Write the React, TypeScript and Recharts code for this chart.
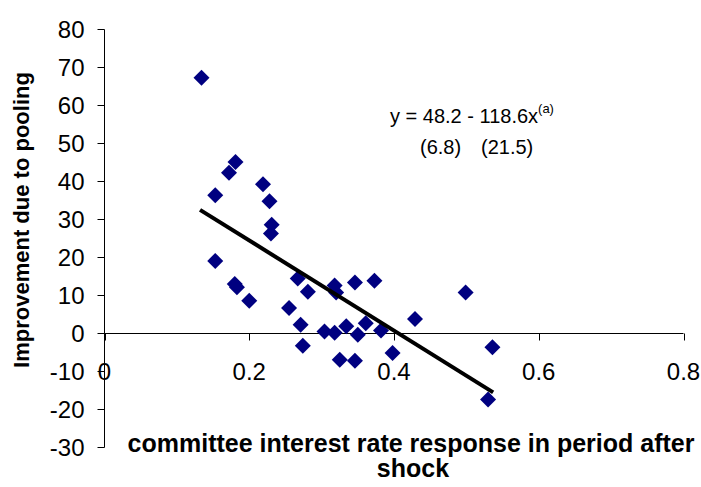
import { ScatterChart, Scatter, XAxis, YAxis, ReferenceLine } from 'recharts'

// committee response (x) vs. improvement from pooling (y), one entry per experiment
const responseX = [
  0.134, 0.181, 0.172, 0.153, 0.219, 0.228, 0.231, 0.230, 0.153, 0.180, 0.183, 0.200,
  0.267, 0.281, 0.255, 0.271, 0.274, 0.304, 0.318, 0.320, 0.318, 0.325, 0.334, 0.346,
  0.350, 0.346, 0.361, 0.373, 0.382, 0.398, 0.429, 0.499, 0.536, 0.530,
]
const improvementY = [
  67.3, 45.1, 42.3, 36.4, 39.3, 34.8, 28.6, 26.3, 19.1, 13.0, 12.2, 8.6,
  14.5, 11.0, 6.7, 2.3, -3.2, 0.5, 12.6, 10.8, 0.2, -6.9, 1.9, 13.4,
  -0.3, -7.2, 2.7, 13.9, 0.8, -5.1, 3.8, 10.8, -3.6, -17.4,
]

// fitted line y = a + b x, drawn over the observed x range
const fitIntercept = 48.2
const fitSlope = -118.6
const fitRange = [0.132, 0.537]

const xTicks = [0, 0.2, 0.4, 0.6, 0.8]
const yTicks = [-30, -20, -10, 0, 10, 20, 30, 40, 50, 60, 70, 80]

const points = responseX.map((x, i) => ({ x, y: improvementY[i] }))
const fitLine = fitRange.map((x) => ({ x, y: fitIntercept + fitSlope * x }))

const FONT = '"Liberation Sans", Arial, Helvetica, sans-serif'
const W = 693
const H = 479
// half-pixel offsets keep the 1px axis lines crisp
const M = { top: 21.5, right: 17.5, bottom: 38.5, left: 0.5 }
const X_AXIS_H = 1
const Y_AXIS_W = 96
const Y_MIN = -30
const Y_MAX = 80
// pixel row of y = 0, where the x axis crosses
const PLOT_H = H - M.top - M.bottom - X_AXIS_H
const ZERO_Y = M.top + (PLOT_H * Y_MAX) / (Y_MAX - Y_MIN)

function Diamond(props: any) {
  const { cx, cy } = props
  if (cx == null || cy == null) return <g />
  const r = 8
  return (
    <polygon
      points={`${cx},${cy - r} ${cx + r},${cy} ${cx},${cy + r} ${cx - r},${cy}`}
      fill="#000080"
    />
  )
}

function XTick(props: any) {
  const { x, payload } = props
  const px = Math.round(x) + 0.5
  return (
    <g>
      <line x1={px} x2={px} y1={ZERO_Y} y2={ZERO_Y + 7} stroke="#000" />
      <text
        x={x}
        y={ZERO_Y + 38}
        dy="0.35em"
        textAnchor="middle"
        fill="#000"
        fontSize={24}
        fontFamily={FONT}
      >
        {payload.value}
      </text>
    </g>
  )
}

export default function App() {
  return (
    // absolute so the body margin does not push the page into a scrollbar
    <div style={{ position: 'absolute', left: 8, top: 8, width: W, height: H, background: '#fff' }}>
      <ScatterChart width={W} height={H} margin={M}>
        <XAxis
          type="number"
          dataKey="x"
          domain={[0, 0.8]}
          ticks={xTicks}
          height={X_AXIS_H}
          axisLine={false}
          tickLine={false}
          tick={<XTick />}
          interval={0}
          allowDataOverflow
        />
        <YAxis
          type="number"
          dataKey="y"
          domain={[Y_MIN, Y_MAX]}
          ticks={yTicks}
          width={Y_AXIS_W}
          interval={0}
          axisLine={{ stroke: '#000' }}
          tickLine={{ stroke: '#000' }}
          tickSize={7}
          tickMargin={13}
          tick={{ fill: '#000', fontSize: 24, fontFamily: FONT }}
          allowDataOverflow
        />
        <ReferenceLine y={0} stroke="#000" strokeWidth={1} />
        <Scatter data={points} shape={<Diamond />} isAnimationActive={false} />
        <Scatter
          data={fitLine}
          line={{ stroke: '#000', strokeWidth: 4 }}
          shape={() => <g />}
          isAnimationActive={false}
        />
        <text
          transform="translate(13,212) rotate(-90)"
          textAnchor="middle"
          dy="0.35em"
          fontSize={22}
          fontWeight="bold"
          fontFamily={FONT}
          fill="#000"
        >
          Improvement due to pooling
        </text>
        <text x={403} y={443.5} textAnchor="middle" fontSize={25} fontWeight="bold" fontFamily={FONT} fill="#000">
          committee interest rate response in period after
        </text>
        <text x={405} y={469} textAnchor="middle" fontSize={25} fontWeight="bold" fontFamily={FONT} fill="#000">
          shock
        </text>
        <text x={382} y={115} fontSize={20} fontFamily={FONT} fill="#000">
          y = 48.2 - 118.6x
          <tspan dy={-10} fontSize={13}>(a)</tspan>
        </text>
        <text x={412} y={146} fontSize={20} fontFamily={FONT} fill="#000">
          (6.8)
        </text>
        <text x={473} y={146} fontSize={20} fontFamily={FONT} fill="#000">
          (21.5)
        </text>
      </ScatterChart>
    </div>
  )
}
